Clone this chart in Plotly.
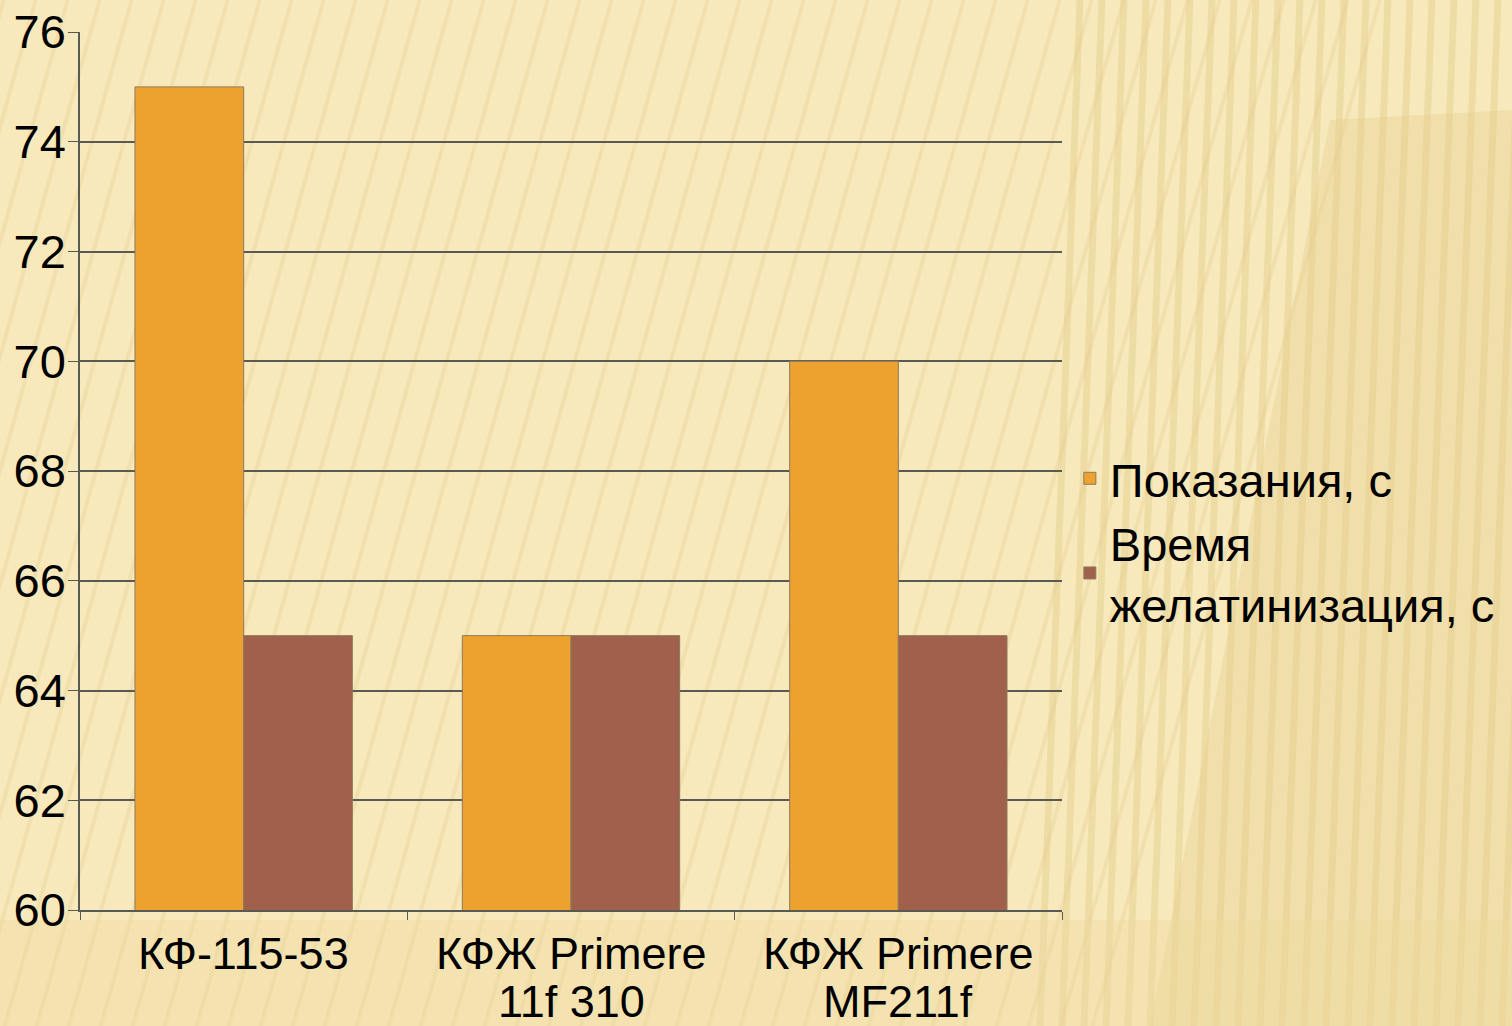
import base64
import plotly.graph_objects as go

categories = ["КФ-115-53", "КФЖ Primere<br>11f 310", "КФЖ Primere<br>MF211f"]
series_names = ["Показания, с", "Время<br>желатинизация, с"]
readings = [75, 65, 70]
gel_time = [65, 65, 65]
colors = ["#EDA22F", "#A0604C"]

W, H = 1512, 1026
L, R, T, B = 80, 450, 32, 116
pw, ph = W - L - R, H - T - B

# background texture (decoration only)
stripes = "".join(
    f'<line x1="{x}" y1="1100" x2="{x + 330}" y2="-80" stroke="#EAD69C" stroke-width="4" opacity="0.45"/>'
    for x in range(-400, 1100, 32)
)
vstripes = "".join(
    f'<line x1="{x}" y1="0" x2="{x - 40}" y2="1026" stroke="#E4CD8A" stroke-width="7" opacity="0.45"/>'
    for x in range(1080, 1560, 22)
)
svg = (
    f'<svg xmlns="http://www.w3.org/2000/svg" width="{W}" height="{H}">'
    f'<rect width="{W}" height="{H}" fill="#F8E9BC"/>'
    + stripes + vstripes +
    '<polygon points="1150,1026 1512,1026 1512,110 1330,120" fill="#E6CF8C" opacity="0.35"/>'
    '<rect x="0" y="920" width="1512" height="106" fill="#EDD9A0" opacity="0.4"/>'
    '</svg>'
)
bg = "data:image/svg+xml;base64," + base64.b64encode(svg.encode()).decode()

fig = go.Figure()
for name, vals, col in zip(series_names, [readings, gel_time], colors):
    fig.add_trace(go.Bar(
        x=categories, y=vals, name=name,
        marker=dict(color=col, line=dict(color="#8C7A5C", width=1)),
    ))

# category labels, one annotation per line for tighter line spacing
line_y = [(910 - 953) / ph, (910 - 1001) / ph]
for cat in categories:
    for i, part in enumerate(cat.split("<br>")):
        fig.add_annotation(x=cat, xref="x", y=line_y[i], yref="paper",
                           text=part, showarrow=False, xanchor="center", yanchor="middle",
                           height=46, font=dict(size=45, color="#000"))

font = "Liberation Sans, Arial, sans-serif"
fig.update_layout(
    width=W, height=H,
    margin=dict(l=L, r=R, t=T, b=B, autoexpand=False),
    paper_bgcolor="#F8E9BC",
    plot_bgcolor="rgba(0,0,0,0)",
    barmode="group", bargap=0.336, bargroupgap=0,
    font=dict(family=font, size=48, color="#000"),
    showlegend=True,
    legend=dict(x=1.008, xanchor="left", y=0.42, yanchor="middle",
                bgcolor="rgba(0,0,0,0)", font=dict(size=47),
                itemwidth=30, tracegroupgap=0),
    images=[dict(source=bg, xref="paper", yref="paper",
                 x=-L / pw, y=1 + T / ph, sizex=W / pw, sizey=H / ph,
                 xanchor="left", yanchor="top",
                 layer="below", sizing="stretch")],
)
fig.update_yaxes(range=[60, 76], dtick=2, showgrid=True, gridcolor="#5A5A55", gridwidth=1.5,
                 showline=True, linecolor="#5A5A55", linewidth=1.5, automargin=False,
                 ticks="outside", ticklen=10, tickcolor="#5A5A55", zeroline=False,
                 tickfont=dict(size=47), ticklabelstandoff=-7)
fig.update_xaxes(showline=True, linecolor="#5A5A55", linewidth=1.5, automargin=False,
                 ticks="outside", ticklen=8, tickcolor="#5A5A55", tickson="boundaries",
                 showticklabels=False)
fig.write_html("out.html")
